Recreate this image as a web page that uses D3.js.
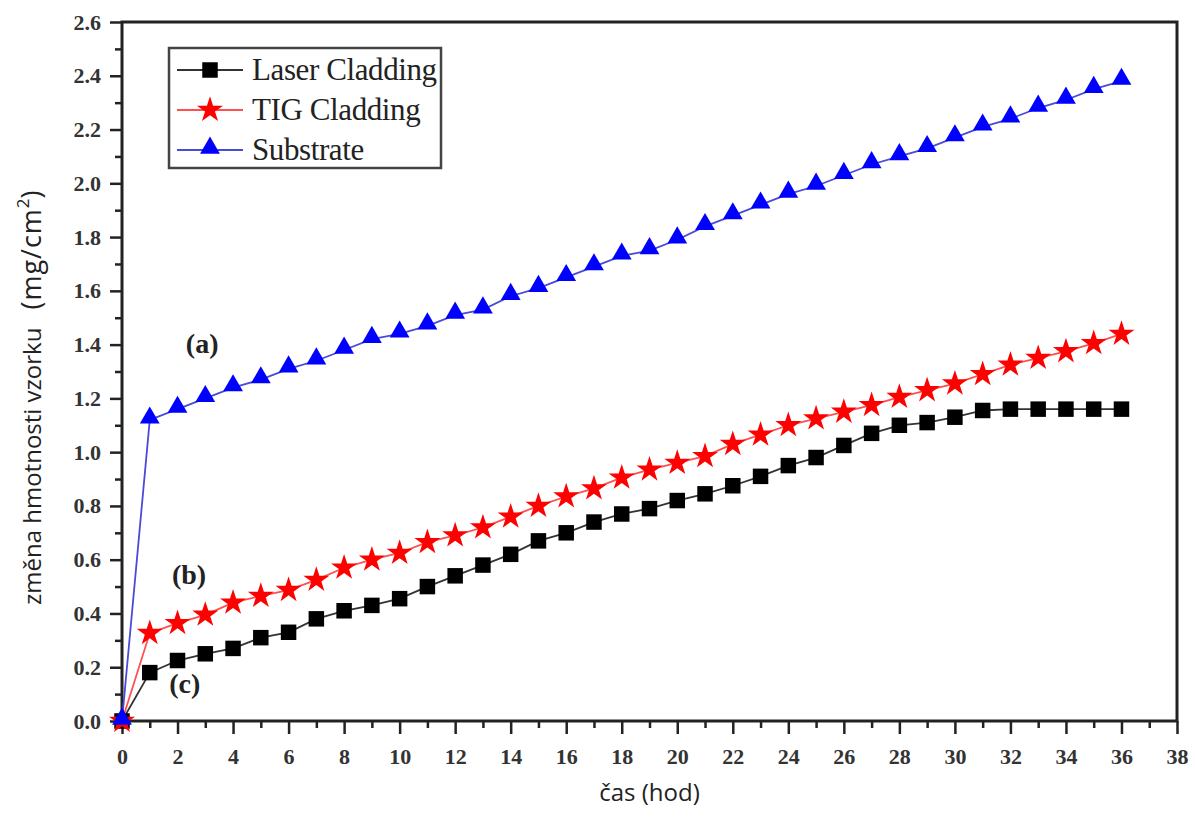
<!DOCTYPE html>
<html>
<head>
<meta charset="utf-8">
<script src="https://cdn.jsdelivr.net/npm/d3@7"></script>
<style>
  body { margin: 0; background: #fff; }
  svg { display: block; }
</style>
</head>
<body>
<div id="chart"></div>
<script>
// hours of exposure
var hours = d3.range(0, 37);

// mass change (mg/cm2)
var laserValues = [0, 0.18, 0.225, 0.25, 0.27, 0.31, 0.33, 0.38, 0.41, 0.43, 0.455,
  0.50, 0.54, 0.58, 0.62, 0.67, 0.70, 0.74, 0.77, 0.79, 0.82, 0.845, 0.875, 0.91,
  0.95, 0.98, 1.025, 1.07, 1.10, 1.11, 1.13, 1.155, 1.16, 1.16, 1.16, 1.16, 1.16];
var tigValues = [0, 0.327, 0.364, 0.395, 0.44, 0.465, 0.487, 0.525, 0.57, 0.60, 0.625,
  0.665, 0.69, 0.72, 0.76, 0.80, 0.835, 0.865, 0.905, 0.935, 0.96, 0.985, 1.03, 1.065,
  1.10, 1.125, 1.15, 1.175, 1.205, 1.23, 1.255, 1.29, 1.325, 1.35, 1.375, 1.405, 1.44];
var substrateValues = [0, 1.12, 1.16, 1.20, 1.24, 1.27, 1.31, 1.34, 1.38, 1.42, 1.44,
  1.47, 1.51, 1.53, 1.58, 1.61, 1.65, 1.69, 1.73, 1.75, 1.79, 1.84, 1.88, 1.92,
  1.96, 1.99, 2.03, 2.07, 2.10, 2.13, 2.17, 2.21, 2.24, 2.28, 2.31, 2.35, 2.38];

var seriesNames = ["Laser Cladding", "TIG Cladding", "Substrate"];
var seriesColors = ["#000000", "#ff0000", "#0000ff"];
var lineColors = ["#333333", "#ff5050", "#4a4ad8"];
var seriesSymbols = [d3.symbolSquare, d3.symbolStar, d3.symbolTriangle];
var symbolSizes = [240, 210, 170];

var xTicks = d3.range(0, 39, 2);
var yTicks = d3.range(0, 27, 2).map(function(d){ return d / 10; });

var annotations = [
  {text: "(a)", x: 2.3, y: 1.37},
  {text: "(b)", x: 1.8, y: 0.51},
  {text: "(c)", x: 1.7, y: 0.105}
];

(function(){
  var width = 1195, height = 819;
  var margin = {left: 122, right: 18, top: 22, bottom: 98};

  var svg = d3.select("#chart").append("svg")
    .attr("width", width)
    .attr("height", height);

  var x = d3.scaleLinear().domain([0, 38]).range([margin.left, width - margin.right]);
  var y = d3.scaleLinear().domain([0, 2.6]).range([height - margin.bottom, margin.top]);

  var axisColor = "#222";
  var tickFont = "'Liberation Serif', 'DejaVu Serif', serif";

  // minor ticks
  svg.append("g")
    .attr("transform", "translate(0," + y(0) + ")")
    .call(d3.axisBottom(x).tickValues(d3.range(1, 38, 2)).tickSize(7).tickFormat(""))
    .call(function(g){ g.select(".domain").remove(); })
    .selectAll("line").attr("stroke", axisColor).attr("stroke-width", 2.5);
  svg.append("g")
    .attr("transform", "translate(" + x(0) + ",0)")
    .call(d3.axisLeft(y).tickValues(d3.range(1, 26, 2).map(function(d){ return d / 10; })).tickSize(7).tickFormat(""))
    .call(function(g){ g.select(".domain").remove(); })
    .selectAll("line").attr("stroke", axisColor).attr("stroke-width", 2.5);

  // major ticks + labels
  var xAxis = svg.append("g")
    .attr("transform", "translate(0," + y(0) + ")")
    .call(d3.axisBottom(x).tickValues(xTicks).tickSize(13).tickPadding(14).tickFormat(d3.format("d")));
  xAxis.select(".domain").remove();
  xAxis.selectAll("line").attr("stroke", axisColor).attr("stroke-width", 2.5);
  xAxis.selectAll("text")
    .style("font-family", tickFont)
    .style("font-size", "22px")
    .style("font-weight", "bold")
    .attr("fill", "#333");

  var yAxis = svg.append("g")
    .attr("transform", "translate(" + x(0) + ",0)")
    .call(d3.axisLeft(y).tickValues(yTicks).tickSize(12).tickPadding(9).tickFormat(d3.format(".1f")));
  yAxis.select(".domain").remove();
  yAxis.selectAll("line").attr("stroke", axisColor).attr("stroke-width", 2.5);
  yAxis.selectAll("text")
    .style("font-family", tickFont)
    .style("font-size", "22px")
    .style("font-weight", "bold")
    .attr("fill", "#333");

  // frame
  svg.append("rect")
    .attr("x", x(0))
    .attr("y", y(2.6))
    .attr("width", x(38) - x(0))
    .attr("height", y(0) - y(2.6))
    .attr("fill", "none")
    .attr("stroke", axisColor)
    .attr("stroke-width", 3);

  // series
  var allSeries = [laserValues, tigValues, substrateValues];
  var line = d3.line()
    .x(function(d, i){ return x(hours[i]); })
    .y(function(d){ return y(d); });

  allSeries.forEach(function(values, s){
    svg.append("path")
      .datum(values)
      .attr("d", line)
      .attr("fill", "none")
      .attr("stroke", lineColors[s])
      .attr("stroke-width", 1.8);
  });
  allSeries.forEach(function(values, s){
    var sym = d3.symbol().type(seriesSymbols[s]).size(symbolSizes[s]);
    svg.selectAll(".pt" + s)
      .data(values)
      .enter()
      .append("path")
      .attr("class", "pt" + s)
      .attr("d", sym)
      .attr("transform", function(d, i){
        var dy = s == 2 ? -2 : 0;
        return "translate(" + x(hours[i]) + "," + (y(d) + dy) + ")";
      })
      .attr("fill", seriesColors[s]);
  });

  // legend
  var legend = svg.append("g").attr("transform", "translate(169,48)");
  legend.append("rect")
    .attr("width", 272)
    .attr("height", 120)
    .attr("fill", "#fff")
    .attr("stroke", "#444")
    .attr("stroke-width", 2.5);
  seriesNames.forEach(function(name, s){
    var ly = 22 + s * 40;
    legend.append("line")
      .attr("x1", 8).attr("x2", 74)
      .attr("y1", ly).attr("y2", ly)
      .attr("stroke", lineColors[s])
      .attr("stroke-width", 1.8);
    legend.append("path")
      .attr("d", d3.symbol().type(seriesSymbols[s]).size(symbolSizes[s]))
      .attr("transform", "translate(41," + (ly - (s == 2 ? 2 : 0)) + ")")
      .attr("fill", seriesColors[s]);
    legend.append("text")
      .attr("x", 83)
      .attr("y", ly + 10)
      .text(name)
      .style("font-family", "'Liberation Serif', serif")
      .style("font-size", "31px")
      .style("letter-spacing", "-0.4px")
      .attr("fill", "#222");
  });

  // annotations
  svg.selectAll(".annot")
    .data(annotations)
    .enter()
    .append("text")
    .attr("class", "annot")
    .attr("x", function(d){ return x(d.x); })
    .attr("y", function(d){ return y(d.y); })
    .text(function(d){ return d.text; })
    .style("font-family", "'Liberation Serif', serif")
    .style("font-size", "28px")
    .style("font-weight", "bold")
    .attr("fill", "#222");

  // axis titles
  svg.append("text")
    .attr("x", (x(0) + x(38)) / 2)
    .attr("y", 801)
    .attr("text-anchor", "middle")
    .text("čas (hod)")
    .style("font-family", "'Open Sans', sans-serif")
    .style("font-size", "24px")
    .attr("fill", "#222");

  var yTitle = svg.append("text")
    .attr("transform", "translate(41,605) rotate(-90)")
    .style("font-family", "'Open Sans', sans-serif")
    .style("font-size", "24px")
    .attr("fill", "#222");
  yTitle.append("tspan").text("změna hmotnosti vzorku");
  yTitle.append("tspan").attr("dx", 18).style("font-size", "27px").style("letter-spacing", "1px").text("(mg/cm");
  yTitle.append("tspan").attr("dy", -12).style("font-size", "17px").text("2");
  yTitle.append("tspan").attr("dy", 12).style("font-size", "27px").text(")");
})();
</script>
</body>
</html>
